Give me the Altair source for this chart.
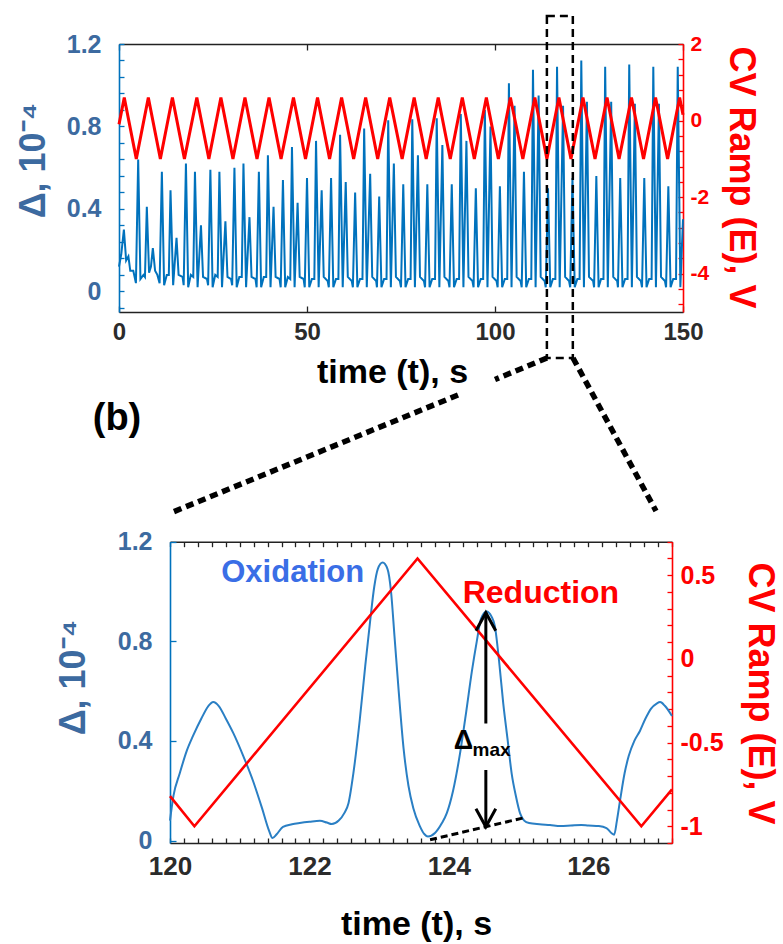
import altair as alt
import pandas as pd

# ---------------- values ----------------
# (a) top panel: optical signal Δ (×1e-4), trace vertices
top_t = (
    [0.0, 0.6, 1.3, 1.9, 2.5, 3.0, 3.8, 4.5, 5.1, 5.7, 6.5, 6.9, 7.4, 8.0, 8.5, 9.0, 9.6, 10.2]
    + [10.8, 11.4, 12.0, 12.7, 13.25, 13.7, 14.4, 15.3, 15.85, 16.9]
    + [17.2, 17.8, 18.4, 19.1, 19.75, 20.2, 20.9, 21.8, 22.35, 23.4]
    + [23.7, 24.3, 24.9, 25.6, 26.25, 26.7, 27.4, 28.3, 28.85, 29.8]
    + [30.1, 30.7, 31.3, 32.0, 32.65, 33.1, 33.8, 34.7, 35.25, 36.3]
    + [36.6, 37.2, 37.8, 38.5, 39.15, 39.6, 40.3, 41.1, 41.65, 42.7]
    + [43.0, 43.6, 44.2, 44.9, 45.55, 46.0, 46.7, 47.5, 48.05, 49.1]
    + [49.4, 50.0, 50.6, 51.3, 51.95, 52.4, 53.1, 53.9, 54.45, 55.5]
    + [55.8, 56.4, 57.0, 57.7, 58.35, 58.8, 59.5, 60.3, 60.85, 61.9]
    + [62.2, 62.8, 63.4, 64.1, 64.75, 65.2, 65.9, 66.8, 67.35, 68.4]
    + [68.6, 69.2, 69.8, 70.5, 71.15, 71.6, 72.3, 73.1, 73.65, 74.7]
    + [75.0, 75.6, 76.2, 76.9, 77.55, 78.0, 78.7, 79.5, 80.05, 81.1]
    + [81.4, 82.0, 82.6, 83.3, 84.05, 84.5, 85.2, 86.0, 86.55, 87.6]
    + [87.9, 88.5, 89.1, 89.8, 90.45, 90.9, 91.6, 92.4, 92.95, 94.0]
    + [94.3, 94.9, 95.5, 96.2, 96.85, 97.3, 98.0, 98.8, 99.35, 100.4]
    + [100.7, 101.3, 101.9, 102.6, 103.25, 103.7, 104.4, 105.2, 105.75, 106.8]
    + [107.1, 107.7, 108.3, 109.0, 109.65, 110.1, 110.8, 111.6, 112.15, 113.2]
    + [113.5, 114.1, 114.7, 115.4, 116.05, 116.5, 117.2, 118.1, 118.65, 119.7]
    + [120.0, 120.6, 121.2, 121.9, 122.5, 122.95, 123.65, 124.45, 125.0, 126.1]
    + [126.35, 126.95, 127.55, 128.2, 128.85, 129.3, 130.0, 130.9, 131.45, 132.5]
    + [132.7, 133.3, 133.9, 134.6, 135.25, 135.7, 136.4, 137.2, 137.75, 138.8]
    + [139.1, 139.7, 140.3, 141.0, 141.65, 142.1, 142.8, 143.6, 144.15, 145.2]
    + [145.5, 146.1, 146.7, 147.4, 148.15, 148.6, 149.3, 150.0]
)
top_d = (
    [0.12, 0.18, 0.30, 0.15, 0.17, 0.10, 0.10, 0.04, 0.64, 0.06, 0.08, 0.07, 0.41, 0.09, 0.12, 0.21, 0.10, 0.08]
    + [0.04, 0.58, 0.03, 0.08, 0.08, 0.49, 0.03, 0.26, 0.08, 0.07]
    + [0.03, 0.62, 0.02, 0.08, 0.07, 0.58, 0.02, 0.32, 0.07, 0.06]
    + [0.03, 0.59, 0.02, 0.08, 0.07, 0.58, 0.02, 0.34, 0.07, 0.06]
    + [0.03, 0.60, 0.02, 0.07, 0.07, 0.62, 0.02, 0.36, 0.07, 0.06]
    + [0.02, 0.58, 0.02, 0.07, 0.07, 0.66, 0.02, 0.41, 0.07, 0.06]
    + [0.02, 0.54, 0.02, 0.07, 0.06, 0.70, 0.02, 0.43, 0.07, 0.06]
    + [0.02, 0.55, 0.02, 0.06, 0.06, 0.73, 0.02, 0.49, 0.07, 0.05]
    + [0.02, 0.55, 0.02, 0.06, 0.06, 0.76, 0.02, 0.53, 0.07, 0.05]
    + [0.02, 0.48, 0.02, 0.06, 0.06, 0.79, 0.02, 0.57, 0.07, 0.05]
    + [0.02, 0.46, 0.02, 0.06, 0.06, 0.83, 0.02, 0.62, 0.07, 0.05]
    + [0.02, 0.52, 0.02, 0.06, 0.06, 0.835, 0.02, 0.66, 0.07, 0.05]
    + [0.02, 0.52, 0.02, 0.06, 0.06, 0.84, 0.02, 0.71, 0.07, 0.05]
    + [0.02, 0.52, 0.02, 0.06, 0.06, 0.86, 0.02, 0.73, 0.07, 0.05]
    + [0.02, 0.50, 0.02, 0.06, 0.06, 0.88, 0.02, 0.80, 0.07, 0.05]
    + [0.02, 0.51, 0.02, 0.06, 0.06, 1.01, 0.02, 0.90, 0.07, 0.05]
    + [0.02, 0.58, 0.02, 0.06, 0.06, 1.075, 0.02, 0.95, 0.07, 0.05]
    + [0.02, 0.50, 0.02, 0.06, 0.06, 1.09, 0.02, 0.90, 0.07, 0.05]
    + [0.02, 0.55, 0.02, 0.06, 0.06, 1.12, 0.02, 0.92, 0.07, 0.05]
    + [0.02, 0.56, 0.02, 0.06, 0.06, 1.09, 0.02, 0.92, 0.07, 0.05]
    + [0.02, 0.55, 0.02, 0.06, 0.06, 1.10, 0.02, 0.91, 0.07, 0.05]
    + [0.02, 0.55, 0.02, 0.06, 0.06, 1.09, 0.02, 0.91, 0.07, 0.05]
    + [0.02, 0.51, 0.02, 0.06, 0.06, 1.09, 0.02, 0.35]
)
# (a) top panel: CV ramp vertices (V)
ramp_top_t = [0.0, 1.4, 4.6, 7.8, 11.0, 14.2, 17.4, 20.7, 23.9, 27.1, 30.3, 33.5, 36.7,
              39.9, 43.1, 46.4, 49.6, 52.8, 56.0, 59.2, 62.4, 65.6, 68.8, 72.0, 75.3,
              78.5, 81.7, 84.9, 88.1, 91.3, 94.5, 97.7, 100.9, 104.1, 107.4, 110.6, 113.8,
              117.0, 120.2, 123.4, 126.6, 129.8, 133.0, 136.3, 139.5, 142.7, 145.9, 149.1, 150.0]
ramp_top_e = [-0.1, 0.6, -1.0, 0.6, -1.0, 0.6, -1.0, 0.6, -1.0, 0.6, -1.0, 0.6, -1.0,
              0.6, -1.0, 0.6, -1.0, 0.6, -1.0, 0.6, -1.0, 0.6, -1.0, 0.6, -1.0,
              0.6, -1.0, 0.6, -1.0, 0.6, -1.0, 0.6, -1.0, 0.6, -1.0, 0.6, -1.0,
              0.6, -1.0, 0.6, -1.0, 0.6, -1.0, 0.6, -1.0, 0.6, -1.0, 0.6, 0.15]

# (b) bottom panel: zoomed Δ trace
bot_t = [120.0, 120.05, 120.14, 120.24, 120.33, 120.45, 120.55, 120.62, 120.7, 120.8,
         120.91, 121.05, 121.19, 121.32, 121.42, 121.47, 121.53, 121.62, 121.75, 121.86,
         122.0, 122.15, 122.25, 122.32, 122.42, 122.5, 122.56, 122.63, 122.72, 122.8,
         122.87, 122.93, 122.98, 123.05, 123.12, 123.17, 123.22, 123.28, 123.35, 123.42,
         123.49, 123.58, 123.65, 123.7, 123.8, 123.9, 123.97, 124.06, 124.16, 124.25,
         124.33, 124.4, 124.46, 124.54, 124.61, 124.66, 124.72, 124.78, 124.84, 124.9,
         124.96, 125.02, 125.08, 125.15, 125.3, 125.45, 125.6, 125.75, 125.9, 126.0,
         126.15, 126.26, 126.33, 126.37, 126.41, 126.46, 126.52, 126.58, 126.66, 126.74,
         126.82, 126.9, 126.98, 127.03, 127.1, 127.2]
bot_d = [0.08, 0.18, 0.27, 0.36, 0.42, 0.49, 0.54, 0.556, 0.54, 0.49,
         0.43, 0.34, 0.24, 0.13, 0.04, 0.01, 0.025, 0.055, 0.065, 0.07,
         0.075, 0.079, 0.072, 0.066, 0.08, 0.11, 0.15, 0.27, 0.48, 0.70,
         0.88, 1.02, 1.09, 1.116, 1.09, 1.0, 0.82, 0.6, 0.37, 0.22,
         0.13, 0.06, 0.025, 0.016, 0.03, 0.07, 0.11, 0.2, 0.35, 0.52,
         0.68, 0.8, 0.89, 0.92, 0.9, 0.86, 0.72, 0.55, 0.41, 0.27,
         0.18, 0.11, 0.08, 0.07, 0.065, 0.062, 0.058, 0.06, 0.062, 0.06,
         0.058, 0.05, 0.03, 0.023, 0.08, 0.17, 0.27, 0.34, 0.4, 0.44,
         0.49, 0.53, 0.55, 0.556, 0.54, 0.5]
ramp_bot_t = [120.0, 120.35, 123.55, 126.76, 127.2]
ramp_bot_e = [-0.82, -1.0, 0.6, -1.0, -0.78]

# annotations (data coordinates)
zoom_t = [113.8, 120.7]                      # zoom window marked on the top trace
ann_labels = ["Oxidation", "Reduction"]
ann_t = [121.76, 125.32]
ann_d = [1.075, 0.995]
dmax_t = [124.53]
dmax_top = [0.915]
dmax_bottom = [0.055]
base_t = [123.73, 125.06]
base_d = [0.003, 0.09]

# tick values
xt_ticks = [0, 50, 100, 150]
ytl_ticks = [0, 0.4, 0.8, 1.2]
ytr_ticks = [2, 0, -2, -4]
xb_ticks = [120, 122, 124, 126]
ybl_ticks = [0, 0.4, 0.8, 1.2]
ybr_ticks = [0.5, 0, -0.5, -1]
ytl_minor = [round(-0.08 + 0.08 * i, 2) for i in range(17)]
ytr_minor = [round(-4.8 + 0.4 * i, 1) for i in range(18)]
xb_minor = [round(120 + 0.2 * i, 1) for i in range(37)]
ybr_minor = [round(-1.1 + 0.1 * i, 1) for i in range(19)]

# ---------------- styling / layout ----------------
FONT = "Liberation Sans"
LINE_BLUE = "#0072BD"
AX_BLUE = "#3c6aa0"
RED = "#ff0000"
DARK = "#2b2b2b"
W, H = 564, 799

XT = ([0, 150], [0, 564])
YTL = ([-0.1, 1.2], [268, 0])
YTR = ([-5, 2], [268, 0])
XB = ([120, 127.2], [51, 553])
YBL = ([-0.01, 1.2], [799, 497.7])
YBR = ([-1.1, 0.7], [799, 497.7])

MINUS_EXPR = "datum.value < 0 ? '-' + format(-datum.value, '~g') : format(datum.value, '~g')"


def sc(s):
    return alt.Scale(domain=s[0], range=s[1], nice=False, zero=False)


def tick_axis(orient, offset, values, size, color):
    return alt.Axis(orient=orient, offset=offset, values=values, labels=False, domain=False,
                    ticks=True, tickSize=size, tickColor=color, tickWidth=1.3,
                    grid=False, title=None)


def frame_axis(orient, offset, color):
    return alt.Axis(orient=orient, offset=offset, values=[], labels=False, ticks=False,
                    domain=True, domainColor=color, domainWidth=1.6, grid=False, title=None)


def label_axis(orient, offset, values, lsize, lcolor, lpad, dcolor, title, tsize, tcolor,
               tx, ty, tangle=None):
    kw = dict(orient=orient, offset=offset, values=values, ticks=False, domain=True,
              domainColor=dcolor, domainWidth=1.6, grid=False, labelExpr=MINUS_EXPR,
              labelFont=FONT, labelFontSize=lsize, labelFontWeight="bold", labelColor=lcolor,
              labelPadding=lpad, labelFlush=False, labelOverlap=False,
              title=title, titleFont=FONT, titleFontSize=tsize, titleFontWeight="bold",
              titleColor=tcolor, titleX=tx, titleY=ty, titleAlign="center",
              titleBaseline="middle")
    if tangle is not None:
        kw["titleAngle"] = tangle
    return alt.Axis(**kw)


top_df = pd.DataFrame({"t": top_t, "d": top_d})
ramp_top_df = pd.DataFrame({"t": ramp_top_t, "e": ramp_top_e})
bot_df = pd.DataFrame({"t": bot_t, "d": bot_d})
ramp_bot_df = pd.DataFrame({"t": ramp_bot_t, "e": ramp_bot_e})

layers = []

# ---- top panel ----
layers.append(alt.Chart(top_df).mark_line(color=LINE_BLUE, strokeWidth=2).encode(
    x=alt.X("t:Q", scale=sc(XT), axis=label_axis(
        "bottom", -531, xt_ticks, 24, DARK, 8, "#222", "time (t), s", 34, "black", 273, 60)),
    y=alt.Y("d:Q", scale=sc(YTL), axis=label_axis(
        "left", 0, ytl_ticks, 25, AX_BLUE, 18, LINE_BLUE, "Δ, 10⁻⁴", 36, AX_BLUE, -86, 116, 270)),
))
layers.append(alt.Chart(ramp_top_df).mark_line(color=RED, strokeWidth=3).encode(
    x=alt.X("t:Q", scale=sc(XT), axis=frame_axis("top", 0, "#222")),
    y=alt.Y("e:Q", scale=sc(YTR), axis=label_axis(
        "right", 0, ytr_ticks, 21, RED, 7, RED, "CV Ramp (E), V", 36, RED, 57, 133, 90)),
))
layers.append(alt.Chart(top_df).mark_line(strokeOpacity=0).encode(
    x=alt.X("t:Q", scale=sc(XT), axis=tick_axis("top", -268, xt_ticks, 6, "#222")),
    y=alt.Y("d:Q", scale=sc(YTL), axis=tick_axis("right", -564, ytl_minor, 5, LINE_BLUE)),
))
layers.append(alt.Chart(ramp_top_df).mark_line(strokeOpacity=0).encode(
    x=alt.X("t:Q", scale=sc(XT), axis=tick_axis("bottom", -799, xt_ticks, 6, "#222")),
    y=alt.Y("e:Q", scale=sc(YTR), axis=tick_axis("left", -564, ytr_minor, 5, RED)),
))

# ---- bottom panel ----
layers.append(alt.Chart(bot_df).mark_line(color="#2a7fc4", strokeWidth=2, interpolate="monotone").encode(
    x=alt.X("t:Q", scale=sc(XB), axis=label_axis(
        "bottom", 0, xb_ticks, 26, DARK, 10, "#222", "time (t), s", 34, "black", 297, 81)),
    y=alt.Y("d:Q", scale=sc(YBL), axis=label_axis(
        "left", -51, ybl_ticks, 25, AX_BLUE, 18, LINE_BLUE, "Δ, 10⁻⁴", 36, AX_BLUE, -97, 633, 270)),
))
layers.append(alt.Chart(ramp_bot_df).mark_line(color=RED, strokeWidth=2.6).encode(
    x=alt.X("t:Q", scale=sc(XB), axis=frame_axis("top", -497.7, "#222")),
    y=alt.Y("e:Q", scale=sc(YBR), axis=label_axis(
        "right", -11, ybr_ticks, 25, RED, 8, RED, "CV Ramp (E), V", 36, RED, 87.5, 649, 90)),
))
layers.append(alt.Chart(bot_df).mark_line(strokeOpacity=0).encode(
    x=alt.X("t:Q", scale=sc(XB), axis=tick_axis("top", -799, xb_minor, 5, "#222")),
    y=alt.Y("d:Q", scale=sc(YBL), axis=tick_axis("right", -513, ybl_ticks, 6, LINE_BLUE)),
))
layers.append(alt.Chart(ramp_bot_df).mark_line(strokeOpacity=0).encode(
    x=alt.X("t:Q", scale=sc(XB), axis=tick_axis("bottom", -301.3, xb_minor, 5, "#222")),
    y=alt.Y("e:Q", scale=sc(YBR), axis=tick_axis("left", -553, ybr_minor, 5, RED)),
))

# ---- annotations in the bottom panel ----
ann_df = pd.DataFrame({"label": ann_labels, "t": ann_t, "d": ann_d})
layers.append(alt.Chart(ann_df.iloc[[0]]).mark_text(
    font=FONT, fontSize=31, fontWeight="bold", color="#3a6ee6", align="center", baseline="middle"
).encode(x=alt.X("t:Q", scale=sc(XB), axis=None), y=alt.Y("d:Q", scale=sc(YBL), axis=None), text="label"))
layers.append(alt.Chart(ann_df.iloc[[1]]).mark_text(
    font=FONT, fontSize=32, fontWeight="bold", color=RED, align="center", baseline="middle"
).encode(x=alt.X("t:Q", scale=sc(XB), axis=None), y=alt.Y("d:Q", scale=sc(YBL), axis=None), text="label"))

dmax_df = pd.DataFrame({"t": dmax_t, "top": dmax_top, "bottom": dmax_bottom})
# arrow shaft (interrupted by the label)
layers.append(alt.Chart(dmax_df).mark_rule(color="black", strokeWidth=3).encode(
    x=alt.X("t:Q", scale=sc(XB), axis=None),
    y=alt.Y("top:Q", scale=sc(YBL), axis=None), y2=alt.value(799 - 0.47 * 250 - 2)))
layers.append(alt.Chart(dmax_df).mark_rule(color="black", strokeWidth=3).encode(
    x=alt.X("t:Q", scale=sc(XB), axis=None),
    y=alt.Y("bottom:Q", scale=sc(YBL), axis=None), y2=alt.value(799 - 0.30 * 250 + 2)))
layers.append(alt.Chart(dmax_df).mark_point(
    shape="M-0.55,1L0,0L0.55,1", size=1296, filled=False, color="black", strokeWidth=3, opacity=1
).encode(x=alt.X("t:Q", scale=sc(XB), axis=None), y=alt.Y("top:Q", scale=sc(YBL), axis=None)))
layers.append(alt.Chart(dmax_df).mark_point(
    shape="M-0.55,-1L0,0L0.55,-1", size=1296, filled=False, color="black", strokeWidth=3, opacity=1
).encode(x=alt.X("t:Q", scale=sc(XB), axis=None), y=alt.Y("bottom:Q", scale=sc(YBL), axis=None)))
layers.append(alt.Chart(pd.DataFrame({"t": [124.21], "d": [0.40], "s": ["Δ"]})).mark_text(
    font=FONT, fontSize=27, fontWeight="bold", color="black", align="center", baseline="middle"
).encode(x=alt.X("t:Q", scale=sc(XB), axis=None), y=alt.Y("d:Q", scale=sc(YBL), axis=None), text="s"))
layers.append(alt.Chart(pd.DataFrame({"t": [124.34], "d": [0.363], "s": ["max"]})).mark_text(
    font=FONT, fontSize=19, fontWeight="bold", color="black", align="left", baseline="middle"
).encode(x=alt.X("t:Q", scale=sc(XB), axis=None), y=alt.Y("d:Q", scale=sc(YBL), axis=None), text="s"))

base_df = pd.DataFrame({"t": [base_t[0]], "t2": [base_t[1]], "d": [base_d[0]], "d2": [base_d[1]]})
layers.append(alt.Chart(base_df).mark_rule(color="black", strokeWidth=3, strokeDash=[7, 4]).encode(
    x=alt.X("t:Q", scale=sc(XB), axis=None), x2="t2",
    y=alt.Y("d:Q", scale=sc(YBL), axis=None), y2="d2"))

# ---- zoom box on the top trace and connectors ----
zoom_df = pd.DataFrame({"t0": [zoom_t[0]], "t1": [zoom_t[1]]})
layers.append(alt.Chart(zoom_df).mark_rect(
    fillOpacity=0, stroke="black", strokeWidth=2.5, strokeDash=[8, 5]
).encode(x=alt.X("t0:Q", scale=sc(XT), axis=None), x2="t1",
         y=alt.value(-28), y2=alt.value(314)))

conn = dict(color="black", strokeWidth=5.5, strokeDash=[8, 5])
layers.append(alt.Chart(zoom_df).mark_rule(**conn).encode(
    x=alt.value(428), x2=alt.value(376), y=alt.value(314), y2=alt.value(335.5)))
layers.append(alt.Chart(zoom_df).mark_rule(**conn).encode(
    x=alt.value(339), x2=alt.value(54), y=alt.value(351), y2=alt.value(468)))
layers.append(alt.Chart(zoom_df).mark_rule(**conn).encode(
    x=alt.value(454), x2=alt.value(537), y=alt.value(314), y2=alt.value(467)))

layers.append(alt.Chart(zoom_df).mark_text(
    font=FONT, fontSize=38, fontWeight="bold", color="black", align="center", baseline="middle"
).encode(x=alt.value(-2), y=alt.value(375), text=alt.value("(b)")))

chart = (
    alt.layer(*layers)
    .resolve_scale(x="independent", y="independent")
    .resolve_axis(x="independent", y="independent")
    .properties(width=W, height=H, autosize=alt.AutoSizeParams(type="none"),
                padding={"left": 119, "top": 44, "right": 100, "bottom": 101},
                background="white")
    .configure_view(stroke=None)
)

chart.save("out.html", embed_options={"renderer": "svg", "actions": False})
